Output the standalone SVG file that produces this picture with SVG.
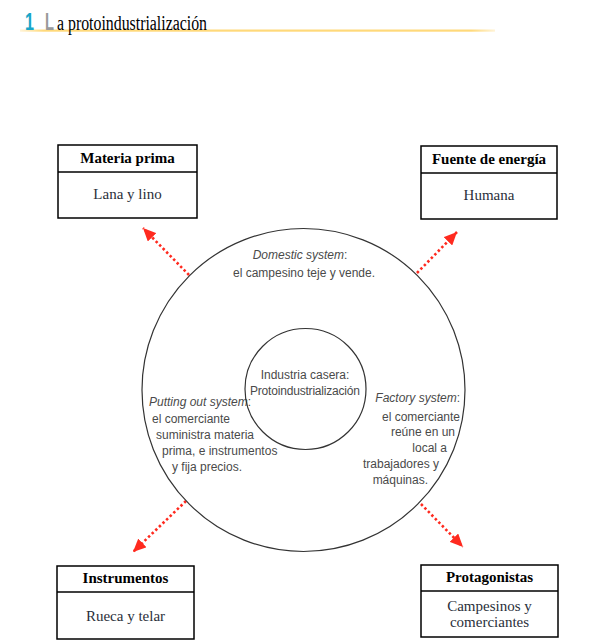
<svg xmlns="http://www.w3.org/2000/svg" width="603" height="643" viewBox="0 0 603 643">
<defs>
<linearGradient id="ul" x1="0" x2="1" y1="0" y2="0">
<stop offset="0" stop-color="#ffd97a" stop-opacity="0.3"/>
<stop offset="0.05" stop-color="#ffd97a"/>
<stop offset="0.95" stop-color="#ffd97a"/>
<stop offset="1" stop-color="#ffd97a" stop-opacity="0.3"/>
</linearGradient>
<marker id="ah" markerUnits="userSpaceOnUse" markerWidth="14" markerHeight="12" viewBox="0 0 14 12" refX="13" refY="6" orient="auto">
<path d="M0,0 L13,6 L0,12 Z" fill="#ff2a1f"/>
</marker>
<style>
.box{fill:#fff;stroke:#000;stroke-width:1.5}
.hd{font-family:"Liberation Serif",serif;font-weight:bold;font-size:15px;fill:#000;text-anchor:middle}
.bd{font-family:"Liberation Serif",serif;font-size:15px;fill:#2a2f3a;text-anchor:middle}
.ct{font-family:"Liberation Sans",sans-serif;font-size:12px;fill:#4a4a4a}
.circ{fill:none;stroke:#333;stroke-width:1.2}
.arr{stroke:#ff2a1f;stroke-width:2.6;stroke-dasharray:2.5 2.5;fill:none;marker-end:url(#ah)}
</style>
</defs>
<rect width="603" height="643" fill="#fff"/>
<g id="title">
<rect x="20" y="29.5" width="475" height="2.2" fill="url(#ul)"/>
<text x="25" y="30" font-family="Liberation Sans,sans-serif" font-weight="bold" font-size="23" fill="#1aa6c8" textLength="9" lengthAdjust="spacingAndGlyphs">1</text>
<text x="45" y="30" font-family="Liberation Sans,sans-serif" font-weight="bold" font-size="23" fill="#9a9a9a" textLength="9" lengthAdjust="spacingAndGlyphs">L</text>
<text x="57" y="30" font-family="Liberation Serif,serif" font-size="20" fill="#000" textLength="150" lengthAdjust="spacingAndGlyphs">a protoindustrialización</text>
</g>
<g id="connectors">
<line class="arr" x1="189" y1="275" x2="143" y2="228"/>
<line class="arr" x1="417" y1="273" x2="457" y2="232"/>
<line class="arr" x1="186" y1="501" x2="133" y2="552"/>
<line class="arr" x1="421" y1="504" x2="463" y2="547"/>
</g>
<g id="outer-circle">
<circle class="circ" cx="303.5" cy="390" r="161.5"/>
<text class="ct" x="300" y="259" text-anchor="middle"><tspan font-style="italic">Domestic system</tspan>:</text>
<text class="ct" x="304" y="277" text-anchor="middle">el campesino teje y vende.</text>
<text class="ct" x="149" y="406"><tspan font-style="italic">Putting out system</tspan>:</text>
<text class="ct" x="152" y="423">el comerciante</text>
<text class="ct" x="156" y="439">suministra materia</text>
<text class="ct" x="162" y="455">prima, e instrumentos</text>
<text class="ct" x="172" y="471">y fija precios.</text>
<text class="ct" x="460" y="402" text-anchor="end"><tspan font-style="italic">Factory system</tspan>:</text>
<text class="ct" x="460" y="421" text-anchor="end">el comerciante</text>
<text class="ct" x="455" y="436" text-anchor="end">reúne en un</text>
<text class="ct" x="447" y="452" text-anchor="end">local a</text>
<text class="ct" x="439" y="468" text-anchor="end">trabajadores y</text>
<text class="ct" x="428" y="484" text-anchor="end">máquinas.</text>
</g>
<g id="inner-circle">
<circle class="circ" cx="305.5" cy="389" r="60.5"/>
<text class="ct" x="305" y="379" text-anchor="middle">Industria casera:</text>
<text class="ct" x="305" y="395" text-anchor="middle" textLength="110">Protoindustrialización</text>
</g>
<g id="materia-prima">
<rect class="box" x="58" y="145" width="139" height="73"/>
<line class="box" x1="58" y1="172" x2="197" y2="172"/>
<text class="hd" x="127.5" y="163">Materia prima</text>
<text class="bd" x="127.5" y="199">Lana y lino</text>
</g>
<g id="fuente-energia">
<rect class="box" x="421" y="146" width="136" height="73"/>
<line class="box" x1="421" y1="173" x2="557" y2="173"/>
<text class="hd" x="489" y="164">Fuente de energía</text>
<text class="bd" x="489" y="200">Humana</text>
</g>
<g id="instrumentos">
<rect class="box" x="57" y="566" width="137" height="73"/>
<line class="box" x1="57" y1="592" x2="194" y2="592"/>
<text class="hd" x="125.5" y="583">Instrumentos</text>
<text class="bd" x="125.5" y="621">Rueca y telar</text>
</g>
<g id="protagonistas">
<rect class="box" x="421" y="565" width="137" height="72"/>
<line class="box" x1="421" y1="591" x2="558" y2="591"/>
<text class="hd" x="489.5" y="582">Protagonistas</text>
<text class="bd" x="489.5" y="611">Campesinos y</text>
<text class="bd" x="489.5" y="627">comerciantes</text>
</g>
</svg>
